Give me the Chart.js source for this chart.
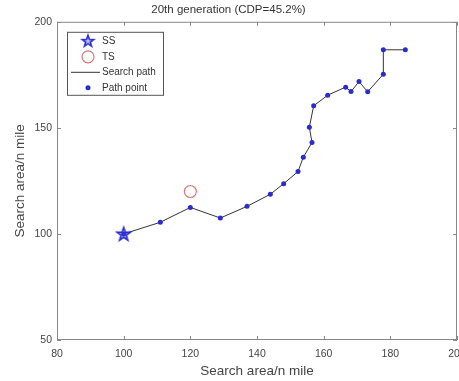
<!DOCTYPE html>
<html>
<head>
<meta charset="utf-8">
<script src="https://cdn.jsdelivr.net/npm/chart.js@4.4.1/dist/chart.umd.min.js"></script>
<style>
  html, body { margin: 0; padding: 0; background: #fff; }
  #wrap { width: 459px; height: 381px; overflow: hidden; }
  #box { width: 475px; height: 381px; }
</style>
</head>
<body>
<div id="wrap"><div id="box"><canvas id="chart"></canvas></div></div>
<script>
// path, in order
const pathX = [100, 111, 120, 129, 137, 144, 148, 152.3, 153.9, 156.5, 155.7, 157, 161.2, 166.6, 168.2, 170.6, 173.2, 177.9, 177.9, 184.5];
const pathY = [100, 105.5, 112.5, 107.5, 113, 118.7, 123.7, 129.4, 136.2, 143.1, 150.3, 160.4, 165.4, 169.2, 167.1, 171.8, 167, 175.3, 186.8, 186.8];
const ssPoint = { x: 100, y: 100 };
const tsPoint = { x: 120, y: 120 };
const xTicks = [80, 100, 120, 140, 160, 180, 200];
const yTicks = [50, 100, 150, 200];
const legendLabels = ['SS', 'TS', 'Search path', 'Path point'];

const FONT = 'Liberation Sans, Arial, sans-serif';
const TXT = '#444';
const BLUE = '#2b2bd6';

// matlab-ish pentagram marker
function starPath(ctx, cx, cy, r) {
  const ri = r * 0.4;
  ctx.beginPath();
  for (let i = 0; i < 10; i++) {
    const rr = i % 2 ? ri : r;
    const a = -Math.PI / 2 + i * Math.PI / 5;
    const px = cx + rr * Math.cos(a), py = cy + rr * Math.sin(a);
    i ? ctx.lineTo(px, py) : ctx.moveTo(px, py);
  }
  ctx.closePath();
}
function makeStar(r) {
  const c = document.createElement('canvas');
  const s = Math.ceil(r * 2 + 4);
  c.width = s; c.height = s;
  const g = c.getContext('2d');
  starPath(g, s / 2, s / 2 + 0.5, r);
  g.fillStyle = 'rgba(60,60,220,0.35)';
  g.fill();
  g.strokeStyle = BLUE; g.lineWidth = 1.6; g.lineJoin = 'miter';
  g.stroke();
  return c;
}
const starImg = makeStar(7);
const starLegend = makeStar(6);

// box + inward ticks + legend
const matlabBits = {
  id: 'matlabBits',
  afterDraw(chart) {
    const ctx = chart.ctx, a = chart.chartArea;
    const sx = chart.scales.x, sy = chart.scales.y;
    ctx.save();
    ctx.strokeStyle = '#888';
    ctx.lineWidth = 1;
    ctx.strokeRect(a.left + 0.5, a.top + 0.5, a.right - a.left - 1, a.bottom - a.top - 1);
    ctx.beginPath();
    xTicks.forEach(v => {
      const px = Math.round(sx.getPixelForValue(v)) + 0.5;
      ctx.moveTo(px, a.bottom); ctx.lineTo(px, a.bottom - 4);
      ctx.moveTo(px, a.top); ctx.lineTo(px, a.top + 4);
    });
    yTicks.forEach(v => {
      const py = Math.round(sy.getPixelForValue(v)) + 0.5;
      ctx.moveTo(a.left, py); ctx.lineTo(a.left + 4, py);
      ctx.moveTo(a.right, py); ctx.lineTo(a.right - 4, py);
    });
    ctx.stroke();

    // legend
    const lx = a.left + 10, ly = a.top + 10, lw = 96, lh = 63;
    ctx.fillStyle = '#fff';
    ctx.fillRect(lx, ly, lw, lh);
    ctx.strokeStyle = '#555';
    ctx.strokeRect(lx + 0.5, ly + 0.5, lw, lh);
    const rows = [9, 25, 40, 56];
    const cx = lx + 21;
    ctx.font = '10px ' + FONT;
    ctx.textBaseline = 'middle';
    ctx.fillStyle = '#333';
    legendLabels.forEach((t, i) => ctx.fillText(t, lx + 35, ly + rows[i]));
    ctx.drawImage(starLegend, cx - starLegend.width / 2, ly + rows[0] - starLegend.height / 2);
    ctx.beginPath();
    ctx.strokeStyle = '#e07575'; ctx.lineWidth = 1.2;
    ctx.arc(cx, ly + rows[1], 6, 0, Math.PI * 2);
    ctx.stroke();
    ctx.beginPath();
    ctx.strokeStyle = '#333'; ctx.lineWidth = 1;
    ctx.moveTo(lx + 4, ly + rows[2] + 0.5); ctx.lineTo(lx + 33, ly + rows[2] + 0.5);
    ctx.stroke();
    ctx.beginPath();
    ctx.fillStyle = BLUE;
    ctx.arc(cx, ly + rows[3], 2.5, 0, Math.PI * 2);
    ctx.fill();
    ctx.restore();
  }
};

new Chart(document.getElementById('chart'), {
  type: 'scatter',
  data: {
    datasets: [
      {
        label: legendLabels[0],
        data: [ssPoint],
        pointStyle: starImg,
        pointRadius: 7
      },
      {
        label: legendLabels[1],
        data: [tsPoint],
        pointStyle: 'circle',
        pointRadius: 6,
        borderColor: '#e07575',
        backgroundColor: 'rgba(0,0,0,0)',
        pointBorderWidth: 1.2
      },
      {
        label: legendLabels[2],
        data: pathX.map((x, i) => ({ x, y: pathY[i] })),
        showLine: true,
        borderColor: '#333',
        borderWidth: 1,
        pointRadius: 2.5,
        pointBackgroundColor: BLUE,
        pointBorderColor: BLUE,
        pointBorderWidth: 0
      }
    ]
  },
  options: {
    responsive: true,
    maintainAspectRatio: false,
    animation: false,
    layout: { padding: { left: 0, right: 18, top: 0, bottom: 0 } },
    plugins: {
      legend: { display: false },
      tooltip: { enabled: false },
      title: {
        display: true,
        text: '20th generation (CDP=45.2%)',
        color: '#333',
        font: { family: FONT, size: 11.5, weight: 'normal' },
        padding: { top: 3, bottom: 5 }
      }
    },
    scales: {
      x: {
        type: 'linear',
        min: 80, max: 200,
        afterBuildTicks: s => { s.ticks = xTicks.map(v => ({ value: v })); },
        afterFit: s => { s.height = 41; },
        grid: { display: false, drawTicks: false },
        border: { display: false },
        ticks: { color: TXT, font: { family: FONT, size: 10.5 }, padding: 8, maxRotation: 0 },
        title: { display: true, text: 'Search area/n mile', color: TXT, font: { family: FONT, size: 13.5 }, padding: { top: 0, bottom: 2 } }
      },
      y: {
        type: 'linear',
        min: 50, max: 200,
        afterBuildTicks: s => { s.ticks = yTicks.map(v => ({ value: v })); },
        afterFit: s => { s.width = 57; },
        grid: { display: false, drawTicks: false },
        border: { display: false },
        ticks: { color: TXT, font: { family: FONT, size: 10.5 }, padding: 5 },
        title: { display: true, text: 'Search area/n mile', color: TXT, font: { family: FONT, size: 13.5 }, padding: { top: 12, bottom: 0 } }
      }
    }
  },
  plugins: [matlabBits]
});
</script>
</body>
</html>
